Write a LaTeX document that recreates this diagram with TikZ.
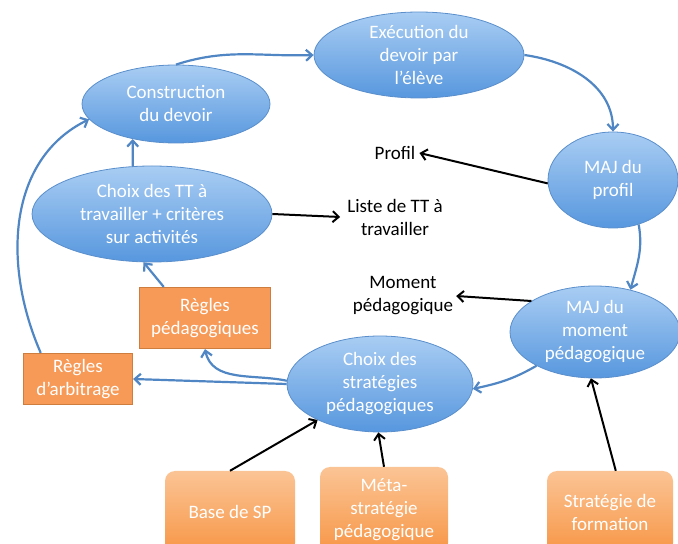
\documentclass[tikz,border=0pt]{standalone}
\usepackage{fontspec}
\setmainfont{Carlito}
\usetikzlibrary{shapes.geometric,arrows.meta}
\definecolor{elltop}{HTML}{A9CDF3}
\definecolor{ellbot}{HTML}{5797DE}
\definecolor{ellline}{HTML}{5A8FCC}
\definecolor{arrblue}{HTML}{4F86C3}
\definecolor{orfill}{HTML}{F79A58}
\definecolor{orline}{HTML}{CF7D3E}
\definecolor{srctop}{HTML}{FBC495}
\definecolor{srcbot}{HTML}{F79646}
\begin{document}
\begin{tikzpicture}[x=1pt,y=1pt,
  txt/.style={font=\fontsize{19}{23}\selectfont},
  blob/.style={ellipse, draw=ellline, line width=0.8pt, top color=elltop, bottom color=ellbot,
    text=white, align=center, inner sep=0pt, txt},
  rulebox/.style={rectangle, draw=orline, line width=1.2pt, fill=orfill, text=white,
    align=center, inner sep=0pt, txt},
  srcbox/.style={rectangle, rounded corners=10pt, top color=srctop, bottom color=srcbot,
    text=white, align=center, inner sep=0pt, txt},
  lbl/.style={text=black, align=center, inner sep=4pt, txt},
  barrow/.style={draw=arrblue, line width=2.2pt, -{Straight Barb[length=6pt,width=11pt]}},
  karrow/.style={draw=black, line width=2pt, -{Straight Barb[length=6pt,width=11pt]}}
]
\useasboundingbox (0,0) rectangle (678,544);

% nodes
\node[blob, minimum width=210, minimum height=86] (exec) at (419,489) {Exécution du\\devoir par\\l’élève};
\node[blob, minimum width=188, minimum height=78] (constr) at (176,440) {Construction\\du devoir};
\node[blob, minimum width=240, minimum height=96] (choixTT) at (152,330) {Choix des TT à\\travailler + critères\\sur activités};
\node[blob, minimum width=130, minimum height=96] (majprofil) at (613,364) {MAJ du\\profil};
\node[blob, minimum width=170, minimum height=92] (majmoment) at (595,212) {MAJ du\\moment\\pédagogique};
\node[blob, minimum width=186, minimum height=96] (choixSP) at (380,160) {Choix des\\stratégies\\pédagogiques};
\node[rulebox, minimum width=131, minimum height=61] (reglesPed) at (205,226) {Règles\\pédagogiques};
\node[rulebox, minimum width=109, minimum height=51] (reglesArb) at (78,165) {Règles\\d’arbitrage};
\node[srcbox, minimum width=130, minimum height=82] (base) at (230,32) {Base de SP};
\node[srcbox, minimum width=128, minimum height=86] (meta) at (384,34) {Méta-\\stratégie\\pédagogique};
\node[srcbox, minimum width=126, minimum height=82] (strat) at (610,32) {Stratégie de\\formation};

\node[lbl] (profil) at (395,391) {Profil};
\node[lbl, inner sep=7pt] (liste) at (395,327) {Liste de TT à\\travailler};
\node[lbl, inner sep=3pt] (moment) at (403,248) {Moment\\pédagogique};

% blue connectors
\draw[barrow] (constr.north) to[out=18,in=182] (exec.west);
\draw[barrow] (exec.east) to[out=-8,in=90] (majprofil.north);
\draw[barrow] (majprofil.-60) to[out=-80,in=75] (majmoment.50);
\draw[barrow] (majmoment.-150) to[out=-150,in=12] (choixSP.-3);
\draw[barrow] (choixSP.west) -- (reglesArb.east);
\draw[barrow] (choixSP.178) to[out=168,in=-78] (reglesPed.south);
\draw[barrow] (reglesPed.143) -- (choixTT.-100);
\draw[barrow] (choixTT.112) -- (constr.-141);
\draw[barrow] (reglesArb.145) .. controls (2,280) and (8,385) .. (constr.190);

% black connectors
\draw[karrow] (majprofil.183) -- (profil.east);
\draw[karrow] (choixTT.east) -- (liste.west);
\draw[karrow] (majmoment.154) -- (moment.east);
\draw[karrow] (base.north) -- (choixSP.-150);
\draw[karrow] (meta.north) -- (choixSP.-92);
\draw[karrow] (strat.82) -- (majmoment.-95);
\end{tikzpicture}
\end{document}
